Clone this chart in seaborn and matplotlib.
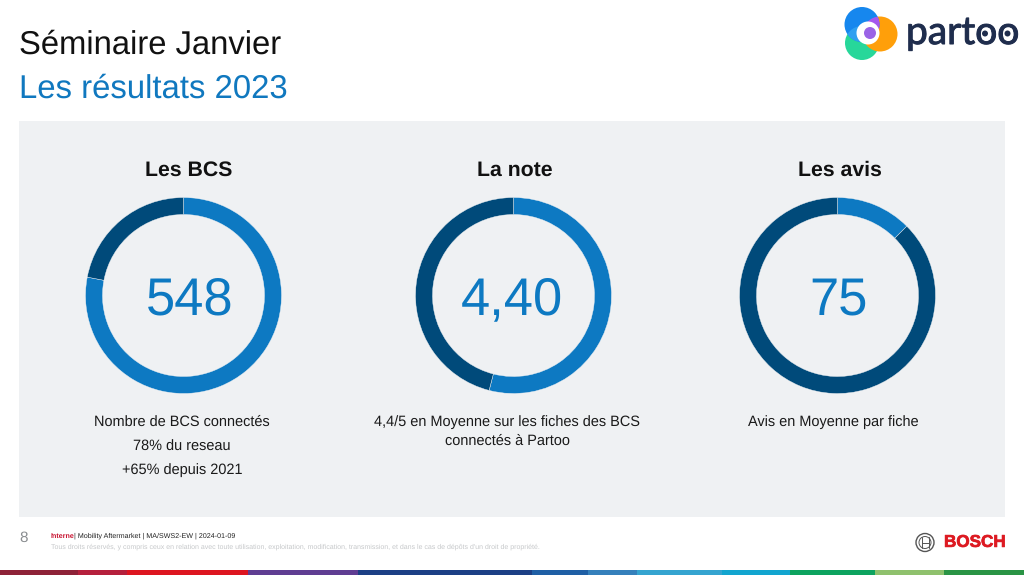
import matplotlib
matplotlib.use("Agg")
import matplotlib.pyplot as plt
import matplotlib.patheffects as pe
from matplotlib.patches import Circle, Rectangle
import seaborn as sns

sns.set_theme(style="white")
plt.rcParams['font.family'] = ['Liberation Sans', 'DejaVu Sans']
plt.rcParams['text.hinting'] = 'no_hinting'

# Data
donut_titles = ["Les BCS", "La note", "Les avis"]
donut_labels = ["548", "4,40", "75"]
blue_shares = [78, 54, 12.5]
dark_shares = [22, 46, 87.5]
donut_captions = [
    ["Nombre de BCS connectés", "78% du reseau", "+65% depuis 2021"],
    ["4,4/5 en Moyenne sur les fiches des BCS", "connectés à Partoo"],
    ["Avis en Moyenne par fiche"],
]
strip_edges = [0, 78, 127, 248, 358, 532, 588, 637, 722, 790, 875, 944, 1024]
strip_colors = ["#8e2238", "#b5203c", "#dd1520", "#5f3d92", "#1c3f85", "#1f5fa5",
                "#3580bb", "#35a4d0", "#12a5cf", "#0da35f", "#8fc16d", "#2a9445"]

BLUE = "#0d79c2"
DARK = "#004a7a"
PANEL = "#eff1f3"
cx_list = [183.5, 513.5, 837.5]
cy = 295.5
R = 98

fig = plt.figure(figsize=(10.24, 5.76), dpi=100, facecolor="white")
bg = fig.add_axes([0, 0, 1, 1])
bg.set_xlim(0, 1024)
bg.set_ylim(576, 0)
bg.axis("off")

bg.text(19, 45, "Séminaire Janvier", fontsize=23.6, color="#111111", va="center", ha="left")
bg.text(19, 89, "Les résultats 2023", fontsize=23.7, color="#1078bf", va="center", ha="left")

bg.add_patch(Rectangle((19, 121), 986, 396, fc=PANEL, ec="none"))

# Logo
blue_disc = Circle((862, 24.5), 17.5, fc="#1687ee", ec="none")
bg.add_patch(Circle((862, 43), 17, fc="#27d79a", ec="none"))
bg.add_patch(Circle((880, 34), 17.5, fc="#ff9f0a", ec="none"))
bg.add_patch(blue_disc)
overlap_purple = Circle((880, 34), 17.5, fc="#a558ee", ec="none")
bg.add_patch(overlap_purple)
overlap_purple.set_clip_path(blue_disc)
overlap_teal = Circle((862, 43), 17, fc="#2fa0f0", ec="none")
bg.add_patch(overlap_teal)
overlap_teal.set_clip_path(blue_disc)
bg.add_patch(Circle((868, 33), 11.5, fc="white", ec="none"))
bg.add_patch(Circle((870, 33), 6, fc="#9a63e6", ec="none"))
bg.text(906, 33, "partoo", fontsize=28, color="#1f2d4d", va="center", ha="left",
        family=["Lato", "DejaVu Sans"],
        path_effects=[pe.withStroke(linewidth=0.7, foreground="#1f2d4d")])
bg.add_patch(Circle((985, 33.5), 3, fc="#1f2d4d", ec="none"))
bg.add_patch(Circle((1007.5, 33.5), 3, fc="#1f2d4d", ec="none"))

# Donuts
label_dx = [0.06, -0.02, 0.015]
title_x = [188.5, 514.5, 839.5]
for i, cx in enumerate(cx_list):
    ax = fig.add_axes([(cx - R) / 1024, 1 - (cy + R) / 576, 2 * R / 1024, 2 * R / 576])
    ax.pie([blue_shares[i], dark_shares[i]], colors=[BLUE, DARK], startangle=90, counterclock=False,
           radius=1, wedgeprops=dict(width=17 / R, edgecolor=PANEL, linewidth=0.3))
    ax.set_xlim(-1, 1)
    ax.set_ylim(-1, 1)
    ax.patch.set_alpha(0)
    bg.text(title_x[i], 170, donut_titles[i], fontsize=15.3, fontweight="bold", color="#111111",
            ha="center", va="center")
    ax.text(label_dx[i], -0.19, donut_labels[i], fontsize=37.8, color=BLUE, ha="center", va="baseline")

caption_x = [182, 507, 833]
caption_y = [[422, 446.5, 470], [422, 441], [422]]
for i, lines in enumerate(donut_captions):
    for line, y in zip(lines, caption_y[i]):
        bg.text(caption_x[i], y, line, fontsize=10.45, color="#1a1a1a", ha="center", va="center")

# Footer
bg.text(19, 538, "8", fontsize=11, color="#8a8d90", va="center", ha="left")
bg.text(51, 537.5, "Interne", fontsize=5.1, color="#c8102e", fontweight="bold", va="baseline", ha="left")
bg.text(74.5, 537.5, "| Mobility Aftermarket | MA/SWS2-EW | 2024-01-09", fontsize=5.1, color="#222222",
        va="baseline", ha="left")
bg.text(51, 546.5, "Tous droits réservés, y compris ceux en relation avec toute utilisation, exploitation, "
        "modification, transmission, et dans le cas de dépôts d'un droit de propriété.",
        fontsize=5.02, color="#c6c8ca", va="center", ha="left")

# Bosch logo
bg.add_patch(Circle((925, 542.5), 9, fc="none", ec="#555555", lw=1.0))
bg.add_patch(Circle((925, 542.5), 6, fc="none", ec="#555555", lw=0.7))
bg.plot([921.5, 921.5], [537, 548], color="#555555", lw=0.7)
bg.plot([928.5, 928.5], [537, 548], color="#555555", lw=0.7)
bg.plot([921.5, 928.5], [542.5, 542.5], color="#555555", lw=0.7)
bg.text(944, 542.5, "BOSCH", fontsize=12.3, fontweight="bold", color="#dd1a22", va="center", ha="left",
        path_effects=[pe.withStroke(linewidth=0.5, foreground="#dd1a22")])

# Colour strip
for left, right, colour in zip(strip_edges[:-1], strip_edges[1:], strip_colors):
    bg.barh(572.5, right - left, left=left, height=5, color=colour, linewidth=0)
bg.set_xlim(0, 1024)
bg.set_ylim(576, 0)

fig.savefig("out.png", dpi=100, facecolor="white")
